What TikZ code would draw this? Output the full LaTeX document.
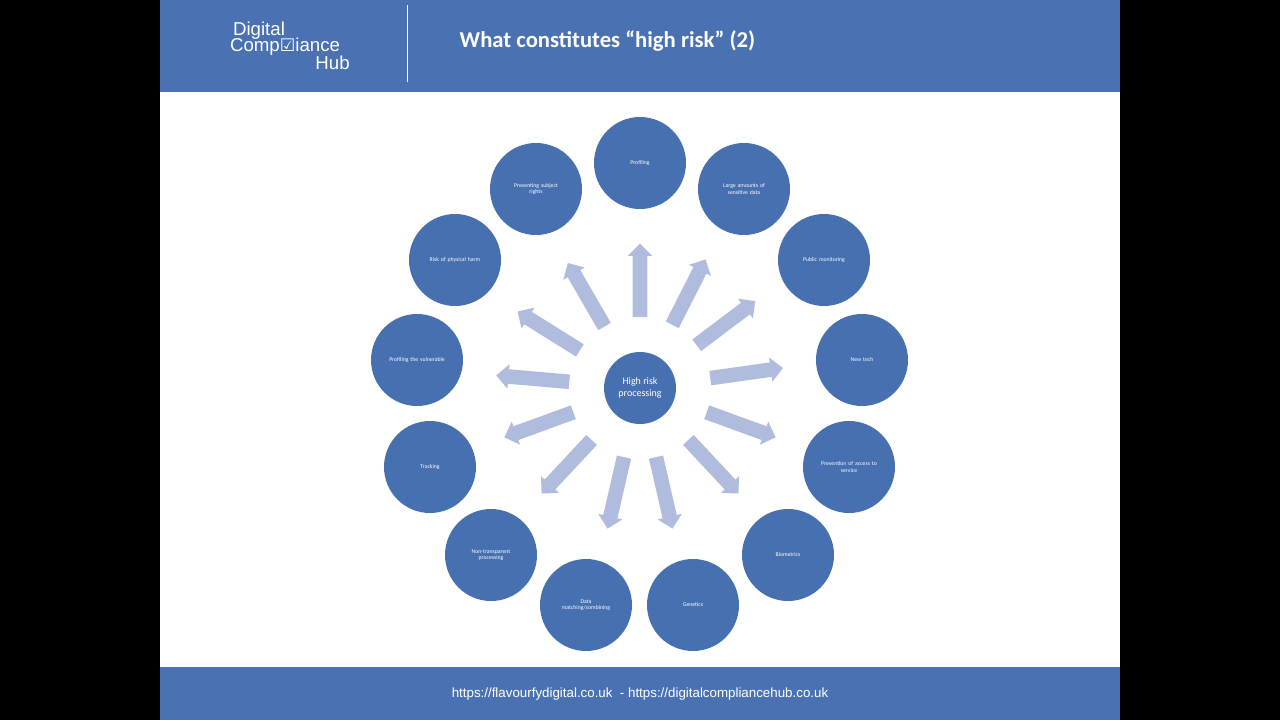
\documentclass[tikz,border=0pt]{standalone}
\usepackage{fontspec}
\setmainfont{Carlito}
\newfontfamily\arialf{Liberation Sans}
\newfontfamily\dejav{DejaVu Sans}
\usetikzlibrary{shapes.arrows}
\definecolor{bandc}{RGB}{74,114,178}
\definecolor{circc}{RGB}{71,112,176}
\definecolor{arrc}{RGB}{176,188,221}
\begin{document}
\begin{tikzpicture}[x=0.75pt,y=-0.75pt,
  outer/.style={circle,fill=circc,minimum size=69pt,inner sep=1pt,text=white,font=\fontsize{4.3}{5}\selectfont,align=center,text width=50pt},
  arr/.style={single arrow,fill=arrc,minimum width=18pt,single arrow head extend=3.75pt,single arrow head indent=0pt,minimum height=55pt,inner xsep=0pt,inner ysep=5.25pt,anchor=center,font=\fontsize{1}{1}\selectfont}]
\fill[black] (0,0) rectangle (1280,720);
\fill[white] (160,92) rectangle (1120,667);
\fill[bandc] (160,0) rectangle (1120,92);
\fill[bandc] (160,667) rectangle (1120,720);
\draw[white,line width=0.6pt] (407,5) -- (407,82);
\node[text=white,font=\arialf\fontsize{14}{14}\selectfont,inner sep=0] (lg1) at (259,31) {Digital};
\node[text=white,font=\arialf\fontsize{14}{14}\selectfont,inner sep=0] (lg2) at (285,47) {Comp{\dejav\fontsize{13}{13}\selectfont ☑}iance};
\node[text=white,font=\arialf\fontsize{14}{14}\selectfont,inner sep=0,anchor=east] (lg3) at (350,63) {Hub};
\node[text=white,font=\bfseries\fontsize{17}{18}\selectfont,anchor=west] (title) at (455,41) {What constitutes “high risk” (2)};
\node[text=white,font=\arialf\fontsize{10}{12}\selectfont] (foot) at (640,694) {https://flavourfydigital.co.uk\ \ - https://digitalcompliancehub.co.uk};
\node[circle,fill=circc,minimum size=54pt,inner sep=0pt,text=white,font=\fontsize{7.5}{9}\selectfont,align=center] (c) at (640,388) {High risk\\processing};
\foreach \n/\x/\y/\t in {a/640/163/Profiling, b/744/189/Large amounts of\\sensitive data, d/824/260/Public monitoring, e/862/360/New tech, f/849/467/Prevention of access to\\service, g/788/555/Biometrics, h/693/605/Genetics, i/586/605/{Data\\matching/combining}, j/491/555/Non-transparent\\processing, k/430/467/Tracking, l/417/360/Profiling the vulnerable, m/455/260/Risk of physical harm, o/536/189/Preventing subject\\rights}
  \node[outer] (\n) at (\x,\y) {\t};
\foreach \n/\ang in {p1/90, p2/63, p3/37, p4/8, p5/-20, p6/-47, p7/-77, p8/-103, p9/-133, p10/-160, p11/-185, p12/-212, p13/-240}
  \node[arr,rotate=\ang] (\n) at ([shift={(-\ang:104)}]c.center) {};
\end{tikzpicture}
\end{document}
